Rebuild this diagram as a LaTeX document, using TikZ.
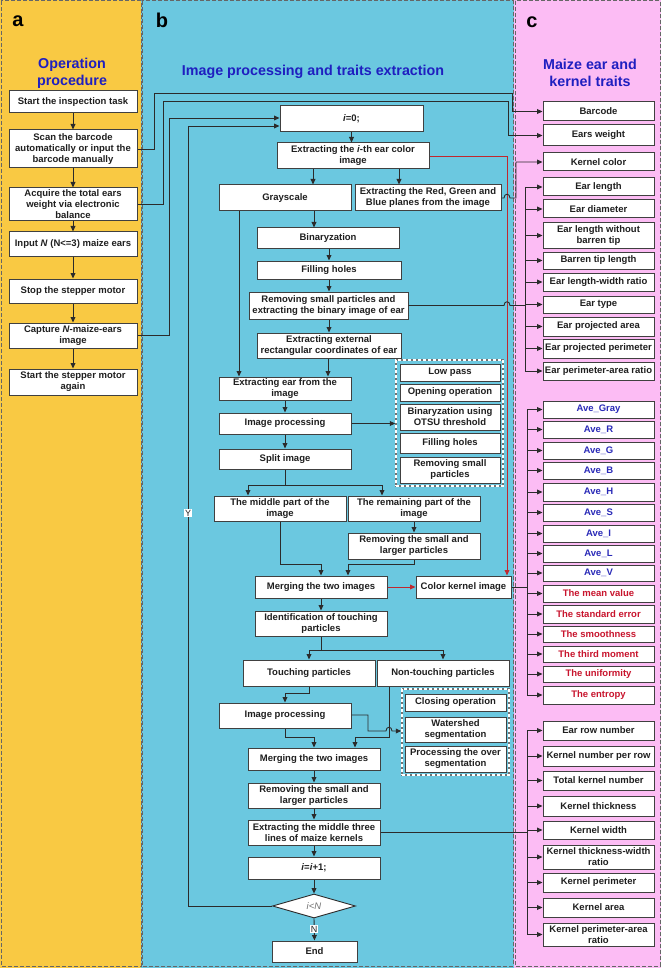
\documentclass[tikz,border=0pt]{standalone}
\usepackage{fontspec}
\setmainfont{Liberation Sans}
\usetikzlibrary{arrows.meta,fit,shapes.geometric}
\definecolor{pya}{HTML}{F9C943}
\definecolor{pcy}{HTML}{6BC8E0}
\definecolor{ppk}{HTML}{FCBCF4}
\definecolor{ttl}{HTML}{1F1FC0}
\definecolor{avb}{HTML}{2A2AB8}
\definecolor{rdt}{HTML}{C8142D}
\definecolor{lncol}{HTML}{2B2B2B}
\definecolor{rl}{HTML}{C0282E}
\newcommand\BX[7][]{\node[box,#1,minimum width=#5pt-#3pt,minimum height=#6pt-#4pt] (#2) at ({(#3+#5)/2},{(#4+#6)/2}) {#7};}
\begin{document}
\begin{tikzpicture}[x=1pt,y=-1pt,
 box/.style={draw=lncol!90, fill=white, line width=1pt, inner sep=0pt, align=center,
   font=\bfseries\fontsize{9.5}{11}\selectfont, text=black!88},
 arr/.style={draw=lncol, line width=0.9pt, -{Triangle[length=5.5pt,width=4.8pt]}},
 conn/.style={draw=lncol, line width=0.9pt},
 pborder/.style={draw=black!60, line width=1pt, dash pattern=on 4pt off 2pt},
 gframe/.style={draw=white, line width=1.5pt, dash pattern=on 3pt off 2pt, inner sep=0pt,
   preaction={draw=black!55, line width=1.5pt, solid}},
 ttlsty/.style={text=ttl, font=\bfseries\fontsize{14.3}{17}\selectfont, align=center},
 plbl/.style={font=\bfseries\fontsize{20}{20}\selectfont, text=black},
 lbl/.style={fill=white, inner sep=0.8pt, font=\fontsize{9}{9}\selectfont, text=black!85}]
\useasboundingbox (0,0) rectangle (661,968);
% panels
\fill[pya] (0,0) rectangle (141,968);
\fill[pcy] (141,0) rectangle (514,968);
\fill[ppk] (514,0) rectangle (661,968);
\draw[pborder] (1,1) rectangle (141,966);
\draw[pborder] (142,1) rectangle (513,966);
\draw[pborder] (515,1) rectangle (660,966);
% labels and titles
\node[plbl] (la) at (18,21) {a};
\node[plbl] (lb) at (162,20) {b};
\node[plbl] (lc) at (532,22) {c};
\node[ttlsty] (ta) at (72,73) {Operation\\procedure};
\node[ttlsty] (tb) at (313,72) {Image processing and traits extraction};
\node[ttlsty] (tc) at (590,73) {Maize ear and\\kernel traits};
% panel a
\BX{A1}{9}{91}{137}{113}{Start the inspection task}
\BX{A2}{9}{130}{137}{168}{Scan the barcode\\automatically or input the\\barcode manually}
\BX{A3}{9}{188}{137}{221}{Acquire the total ears\\weight via electronic\\balance}
\BX{A4}{9}{232}{137}{256}{Input \textit{N} (N<=3) maize ears}
\BX{A5}{9}{279}{137}{303}{Stop the stepper motor}
\BX{A6}{9}{323}{137}{348}{Capture \textit{N}-maize-ears\\image}
\BX{A7}{9}{369}{137}{395}{Start the stepper motor\\again}
% panel b
\BX{B0}{280}{106}{423}{132}{\textit{i}=0;}
\BX{B1}{277}{143}{429}{169}{Extracting the \textit{i}-th ear color\\image}
\BX{B2}{219}{185}{351}{211}{Grayscale}
\BX{B3}{355}{185}{501}{211}{Extracting the Red, Green and\\Blue planes from the image}
\BX{B4}{257}{228}{399}{248}{Binaryzation}
\BX{B5}{257}{261}{401}{279}{Filling holes}
\BX{B6}{249}{292}{408}{319}{Removing small particles and\\extracting the binary image of ear}
\BX{B7}{257}{333}{401}{358}{Extracting external\\rectangular coordinates of ear}
\BX{B8}{219}{377}{351}{400}{Extracting ear from the\\image}
\BX{B9}{219}{413}{351}{434}{Image processing}
\BX{B10}{219}{449}{351}{469}{Split image}
\node[gframe, fit={(396,360) (503,486)}] (G1) {};
\BX{g1}{400}{364}{500}{381}{Low pass}
\BX{g2}{400}{384}{500}{401}{Opening operation}
\BX{g3}{400}{404}{500}{430}{Binaryzation using\\OTSU threshold}
\BX{g4}{400}{433}{500}{453}{Filling holes}
\BX{g5}{400}{457}{500}{483}{Removing small\\particles}
\BX{B11}{214}{496}{346}{521}{The middle part of the\\image}
\BX{B12}{348}{496}{480}{521}{The remaining part of the\\image}
\BX{B13}{348}{533}{480}{559}{Removing the small and\\larger particles}
\BX{B14}{255}{576}{387}{598}{Merging the two images}
\BX{B15}{416}{576}{511}{598}{Color kernel image}
\BX{B16}{255}{611}{387}{636}{Identification of touching\\particles}
\BX{B17}{243}{660}{375}{686}{Touching particles}
\BX{B18}{377}{660}{509}{686}{Non-touching particles}
\BX{B19}{219}{703}{351}{728}{Image processing}
\node[gframe, fit={(402,689) (509,775)}] (G2) {};
\BX{h1}{405}{694}{506}{711}{Closing operation}
\BX{h2}{405}{717}{506}{742}{Watershed\\segmentation}
\BX{h3}{405}{746}{506}{772}{Processing the over\\segmentation}
\BX{B20}{248}{748}{380}{770}{Merging the two images}
\BX{B21}{248}{783}{380}{808}{Removing the small and\\larger particles}
\BX{B22}{248}{820}{380}{845}{Extracting the middle three\\lines of maize kernels}
\BX{B23}{248}{857}{380}{879}{\textit{i}=\textit{i}+1;}
\node[draw=lncol, fill=white, diamond, line width=0.9pt, minimum width=83pt, minimum height=24pt,
  inner sep=0pt, text=black!55, font=\itshape\fontsize{9.5}{11}\selectfont] (dec) at (314,906) {i<N};
\BX{B24}{272}{941}{357}{962}{End}
% panel c
\BX{c1}{543}{102}{654}{121}{Barcode}
\BX{c2}{543}{125}{654}{146}{Ears weight}
\BX{c3}{543}{153}{654}{171}{Kernel color}
\BX{c4}{543}{178}{654}{196}{Ear length}
\BX{c5}{543}{200}{654}{218}{Ear diameter}
\BX{c6}{543}{223}{654}{248}{Ear length without\\barren tip}
\BX{c7}{543}{252}{654}{269}{Barren tip length}
\BX{c8}{543}{273}{654}{291}{Ear length-width ratio}
\BX{c9}{543}{296}{654}{313}{Ear type}
\BX{c10}{543}{317}{654}{336}{Ear projected area}
\BX{c11}{543}{339}{654}{358}{Ear projected perimeter}
\BX{c12}{543}{362}{654}{380}{Ear perimeter-area ratio}
\BX[text=avb]{k1}{543}{401}{654}{418}{Ave\_Gray}
\BX[text=avb]{k2}{543}{421}{654}{438}{Ave\_R}
\BX[text=avb]{k3}{543}{442}{654}{459}{Ave\_G}
\BX[text=avb]{k4}{543}{462}{654}{479}{Ave\_B}
\BX[text=avb]{k5}{543}{483}{654}{501}{Ave\_H}
\BX[text=avb]{k6}{543}{504}{654}{521}{Ave\_S}
\BX[text=avb]{k7}{543}{525}{654}{542}{Ave\_I}
\BX[text=avb]{k8}{543}{545}{654}{562}{Ave\_L}
\BX[text=avb]{k9}{543}{565}{654}{581}{Ave\_V}
\BX[text=rdt]{k10}{543}{585}{654}{602}{The mean value}
\BX[text=rdt]{k11}{543}{605}{654}{623}{The standard error}
\BX[text=rdt]{k12}{543}{626}{654}{642}{The smoothness}
\BX[text=rdt]{k13}{543}{646}{654}{662}{The third moment}
\BX[text=rdt]{k14}{543}{666}{654}{682}{The uniformity}
\BX[text=rdt]{k15}{543}{686}{654}{704}{The entropy}
\BX{m1}{543}{721}{654}{740}{Ear row number}
\BX{m2}{543}{746}{654}{766}{Kernel number per row}
\BX{m3}{543}{771}{654}{790}{Total kernel number}
\BX{m4}{543}{796}{654}{816}{Kernel thickness}
\BX{m5}{543}{821}{654}{839}{Kernel width}
\BX{m6}{543}{845}{654}{869}{Kernel thickness-width\\ratio}
\BX{m7}{543}{873}{654}{892}{Kernel perimeter}
\BX{m8}{543}{898}{654}{917}{Kernel area}
\BX{m9}{543}{923}{654}{946}{Kernel perimeter-area\\ratio}
% panel a arrows
\foreach \p/\q in {A1/A2,A2/A3,A3/A4,A4/A5,A5/A6,A6/A7}
  \draw[arr] (\p.south) -- (\q.north);
\draw[arr] (A2.east) -- (154,149) -- (154,93) -- (512,93) -- (512,111.5) -- (c1.west);
\draw[arr] (A3.east) -- (163,204.5) -- (163,101) -- (508,101) -- (508,135.5) -- (c2.west);
\draw[arr] (A6.east) -- (169,335.5) -- (169,118) -- (B0.west |- 0,118);
% loop
\draw[arr] (dec.west) -- (188,906) -- (188,126) -- (B0.west |- 0,126);
\node[lbl] (ly) at (188,513) {Y};
% panel b arrows
\draw[arr] (B0.south) -- (B0.south |- B1.north);
\draw[arr] (B1.south -| 313,0) -- (B2.north -| 313,0);
\draw[arr] (B1.south -| 399,0) -- (B3.north -| 399,0);
\draw[arr, draw=rl] (B1.east) -- (507,156) -- (B15.north -| 507,0);
\draw[arr] (B2.south -| 314,0) -- (B4.north -| 314,0);
\draw[arr] (B2.south -| 239,0) -- (B8.north -| 239,0);
\draw[arr] (B4.south -| 329,0) -- (B5.north -| 329,0);
\draw[arr] (B5.south -| 329,0) -- (B6.north -| 329,0);
\draw[arr] (B6.south -| 329,0) -- (B7.north -| 329,0);
\draw[arr] (B7.south -| 328,0) -- (B8.north -| 328,0);
\draw[arr] (B8.south) -- (B9.north);
\draw[arr] (B9.south) -- (B10.north);
\draw[arr] (B9.east) -- (B9.east -| G1.west);
\draw[arr] (B10.south) -- (285,485) -| (B11.north -| 248,0);
\draw[arr] (285,485) -| (B12.north -| 382,0);
\draw[arr] (B11.south -| 280,0) -- (280,564) -| (B14.north -| 321,0);
\draw[arr] (B12.south -| 414,0) -- (B13.north -| 414,0);
\draw[arr] (B13.south -| 414,0) -- (414,564) -| (B14.north -| 348,0);
\draw[arr, draw=rl] (B14.east) -- (B15.west);
\draw[arr] (B14.south -| 321,0) -- (B16.north -| 321,0);
\draw[arr] (B16.south -| 321,0) -- (321,650) -| (B17.north -| 309,0);
\draw[arr] (321,650) -| (B18.north -| 443,0);
\draw[arr] (B17.south -| 309,0) -- (309,693) -| (B19.north -| 285,0);
\draw[arr] (B19.east |- 0,715) -- (368,715) -- (368,731) -- (386,731)
   .. controls (386,726) and (392,726) .. (392,731) -- (G2.west |- 0,731);
\draw[arr] (B19.south -| 285,0) -- (285,737) -| (B20.north -| 314,0);
\draw[arr] (B18.south -| 389,0) -- (389,737) -| (B20.north -| 355,0);
\draw[arr] (B20.south) -- (B21.north);
\draw[arr] (B21.south) -- (B22.north);
\draw[arr] (B22.south) -- (B23.north);
\draw[arr] (B23.south) -- (dec.north);
\draw[arr] (dec.south) -- (B24.north);
\node[lbl] (ln) at (314,929) {N};
% b -> c
\draw[arr] (B3.east) -- (504,198) .. controls (504,193) and (510,193) .. (510,198)
   -- (516,198) -- (516,162) -- (c3.west);
\draw[conn] (B6.east) -- (504,305.5) .. controls (504,300.5) and (510,300.5) .. (510,305.5) -- (525,305.5);
\draw[conn] (c4.west -| 525,0) -- (c12.west -| 525,0);
\foreach \n in {c4,c5,c6,c7,c8,c9,c10,c11,c12}
  \draw[arr] (\n.west -| 525,0) -- (\n.west);
\draw[conn] (B15.east) -- (527,587);
\draw[conn] (k1.west -| 527,0) -- (k15.west -| 527,0);
\foreach \n in {k1,k2,k3,k4,k5,k6,k7,k8,k9,k10,k11,k12,k13,k14,k15}
  \draw[arr] (\n.west -| 527,0) -- (\n.west);
\draw[conn] (B22.east) -- (527,832.5);
\draw[conn] (m1.west -| 527,0) -- (m9.west -| 527,0);
\foreach \n in {m1,m2,m3,m4,m5,m6,m7,m8,m9}
  \draw[arr] (\n.west -| 527,0) -- (\n.west);
\end{tikzpicture}
\end{document}
